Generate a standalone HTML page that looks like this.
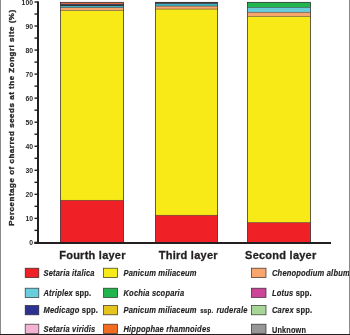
<!DOCTYPE html>
<html><head><meta charset="utf-8"><style>
html,body{margin:0;padding:0;background:#fff;}
body{width:350px;height:335px;overflow:hidden;}
svg{display:block;}
text{font-family:"Liberation Sans",Arial,sans-serif;font-weight:bold;fill:#222;}
.tk{font-size:7.6px;text-anchor:end;fill:#2a2a2a;}
.yt{font-size:8px;letter-spacing:0.515px;stroke:#2a2a2a;stroke-width:0.35px;text-anchor:middle;fill:#2a2a2a;}
.xl{font-size:11px;text-anchor:middle;letter-spacing:0.25px;fill:#231f20;stroke:#231f20;stroke-width:0.3px;}
.lg{font-size:8.6px;fill:#222;letter-spacing:0.2px;stroke:#222;stroke-width:0.15px;}
.i{font-style:italic;}
.sm{font-size:7.1px;}
</style></head><body>
<svg width="350" height="335" viewBox="0 0 350 335">
<rect width="350" height="335" fill="#fff"/>
<rect x="60.5" y="200.20" width="63.0" height="42.30" fill="#ef2026"/>
<rect x="60.5" y="10.42" width="63.0" height="189.78" fill="#f7ea16"/>
<rect x="60.5" y="7.49" width="63.0" height="2.93" fill="#f9a66c"/>
<rect x="60.5" y="5.66" width="63.0" height="1.83" fill="#3eb0bc"/>
<rect x="60.5" y="4.99" width="63.0" height="0.67" fill="#152020"/>
<rect x="60.5" y="4.13" width="63.0" height="0.94" fill="#34428a"/>
<rect x="60.5" y="2.30" width="63.0" height="1.83" fill="#ec7048"/>
<rect x="60.5" y="199.98" width="63.0" height="0.45" fill="#231f20"/>
<rect x="60.5" y="10.19" width="63.0" height="0.45" fill="#231f20"/>
<rect x="60.5" y="7.26" width="63.0" height="0.45" fill="#231f20"/>
<rect x="60.5" y="5.44" width="63.0" height="0.45" fill="#231f20"/>
<rect x="60.5" y="4.84" width="63.0" height="0.45" fill="#231f20"/>
<rect x="60.5" y="3.90" width="63.0" height="0.45" fill="#231f20"/>
<rect x="60.5" y="2.30" width="63.0" height="240.20" fill="none" stroke="#231f20" stroke-width="0.7"/>
<rect x="155.5" y="215.19" width="62.0" height="27.31" fill="#ef2026"/>
<rect x="155.5" y="9.07" width="62.0" height="206.12" fill="#f7ea16"/>
<rect x="155.5" y="6.10" width="62.0" height="2.98" fill="#f9a66c"/>
<rect x="155.5" y="3.50" width="62.0" height="2.59" fill="#3eb0bc"/>
<rect x="155.5" y="2.30" width="62.0" height="1.20" fill="#222230"/>
<rect x="155.5" y="214.96" width="62.0" height="0.45" fill="#231f20"/>
<rect x="155.5" y="8.85" width="62.0" height="0.45" fill="#231f20"/>
<rect x="155.5" y="5.87" width="62.0" height="0.45" fill="#231f20"/>
<rect x="155.5" y="3.28" width="62.0" height="0.45" fill="#231f20"/>
<rect x="155.5" y="2.30" width="62.0" height="240.20" fill="none" stroke="#231f20" stroke-width="0.7"/>
<rect x="247.5" y="222.40" width="63.0" height="20.10" fill="#ef2026"/>
<rect x="247.5" y="16.30" width="63.0" height="206.09" fill="#f7ea16"/>
<rect x="247.5" y="12.20" width="63.0" height="4.11" fill="#f9a66c"/>
<rect x="247.5" y="7.30" width="63.0" height="4.90" fill="#68cedc"/>
<rect x="247.5" y="2.30" width="63.0" height="5.00" fill="#20b64d"/>
<rect x="247.5" y="222.17" width="63.0" height="0.45" fill="#231f20"/>
<rect x="247.5" y="16.08" width="63.0" height="0.45" fill="#231f20"/>
<rect x="247.5" y="11.97" width="63.0" height="0.45" fill="#231f20"/>
<rect x="247.5" y="7.07" width="63.0" height="0.45" fill="#231f20"/>
<rect x="247.5" y="2.30" width="63.0" height="240.20" fill="none" stroke="#231f20" stroke-width="0.7"/>
<rect x="37" y="1.3" width="2" height="242.7" fill="#231f20"/>
<rect x="34.3" y="242" width="296.7" height="2" fill="#231f20"/>
<rect x="34.5" y="241.70" width="3" height="1.4" fill="#231f20"/>
<text class="tk" transform="translate(33.0,245.10) scale(0.9,1)">0</text>
<rect x="34.5" y="229.68" width="3" height="1.4" fill="#231f20"/>
<rect x="34.5" y="217.66" width="3" height="1.4" fill="#231f20"/>
<text class="tk" transform="translate(33.0,221.06) scale(0.9,1)">10</text>
<rect x="34.5" y="205.64" width="3" height="1.4" fill="#231f20"/>
<rect x="34.5" y="193.62" width="3" height="1.4" fill="#231f20"/>
<text class="tk" transform="translate(33.0,197.02) scale(0.9,1)">20</text>
<rect x="34.5" y="181.60" width="3" height="1.4" fill="#231f20"/>
<rect x="34.5" y="169.58" width="3" height="1.4" fill="#231f20"/>
<text class="tk" transform="translate(33.0,172.98) scale(0.9,1)">30</text>
<rect x="34.5" y="157.56" width="3" height="1.4" fill="#231f20"/>
<rect x="34.5" y="145.54" width="3" height="1.4" fill="#231f20"/>
<text class="tk" transform="translate(33.0,148.94) scale(0.9,1)">40</text>
<rect x="34.5" y="133.52" width="3" height="1.4" fill="#231f20"/>
<rect x="34.5" y="121.50" width="3" height="1.4" fill="#231f20"/>
<text class="tk" transform="translate(33.0,124.90) scale(0.9,1)">50</text>
<rect x="34.5" y="109.48" width="3" height="1.4" fill="#231f20"/>
<rect x="34.5" y="97.46" width="3" height="1.4" fill="#231f20"/>
<text class="tk" transform="translate(33.0,100.86) scale(0.9,1)">60</text>
<rect x="34.5" y="85.44" width="3" height="1.4" fill="#231f20"/>
<rect x="34.5" y="73.42" width="3" height="1.4" fill="#231f20"/>
<text class="tk" transform="translate(33.0,76.82) scale(0.9,1)">70</text>
<rect x="34.5" y="61.40" width="3" height="1.4" fill="#231f20"/>
<rect x="34.5" y="49.38" width="3" height="1.4" fill="#231f20"/>
<text class="tk" transform="translate(33.0,52.78) scale(0.9,1)">80</text>
<rect x="34.5" y="37.36" width="3" height="1.4" fill="#231f20"/>
<rect x="34.5" y="25.34" width="3" height="1.4" fill="#231f20"/>
<text class="tk" transform="translate(33.0,28.74) scale(0.9,1)">90</text>
<rect x="34.5" y="13.32" width="3" height="1.4" fill="#231f20"/>
<rect x="34.5" y="1.30" width="3" height="1.4" fill="#231f20"/>
<text class="tk" transform="translate(33.0,4.70) scale(0.9,1)">100</text>
<text class="yt" transform="translate(14.1,117.6) rotate(-90)" x="0" y="0">Percentage of charred seeds at the Zongri site (%)</text>
<text class="xl" x="92.5" y="258.5">Fourth layer</text>
<text class="xl" x="188.3" y="258.5">Third layer</text>
<text class="xl" x="280.8" y="258.5">Second layer</text>
<rect x="25.2" y="268.2" width="13.6" height="9.4" fill="#ef2026" stroke="#231f20" stroke-opacity="0.85" stroke-width="0.75"/>
<text class="lg" transform="translate(43.5,276.4) scale(0.875,1)"><tspan class="i">Setaria italica</tspan></text>
<rect x="103.5" y="268.2" width="14.1" height="9.4" fill="#f7ea16" stroke="#231f20" stroke-opacity="0.85" stroke-width="0.75"/>
<text class="lg" transform="translate(123.5,276.4) scale(0.875,1)"><tspan class="i">Panicum miliaceum</tspan></text>
<rect x="251.4" y="268.2" width="14.6" height="9.4" fill="#f9a66c" stroke="#231f20" stroke-opacity="0.85" stroke-width="0.75"/>
<text class="lg" transform="translate(272.0,276.4) scale(0.875,1)"><tspan class="i">Chenopodium album</tspan></text>
<rect x="25.2" y="288.2" width="13.6" height="9.3" fill="#68cedc" stroke="#231f20" stroke-opacity="0.85" stroke-width="0.75"/>
<text class="lg" transform="translate(43.5,296.0) scale(0.875,1)"><tspan class="i">Atriplex</tspan> spp.</text>
<rect x="103.5" y="288.2" width="14.1" height="9.3" fill="#20b64d" stroke="#231f20" stroke-opacity="0.85" stroke-width="0.75"/>
<text class="lg" transform="translate(123.5,296.0) scale(0.875,1)"><tspan class="i">Kochia scoparia</tspan></text>
<rect x="251.4" y="288.2" width="14.6" height="9.3" fill="#cd4599" stroke="#231f20" stroke-opacity="0.85" stroke-width="0.75"/>
<text class="lg" transform="translate(272.0,296.0) scale(0.875,1)"><tspan class="i">Lotus</tspan> spp.</text>
<rect x="25.2" y="305.5" width="13.6" height="9.3" fill="#2c3192" stroke="#231f20" stroke-opacity="0.85" stroke-width="0.75"/>
<text class="lg" transform="translate(43.5,312.7) scale(0.875,1)"><tspan class="i">Medicago</tspan> spp.</text>
<rect x="103.5" y="305.5" width="14.1" height="9.3" fill="#e5c41e" stroke="#231f20" stroke-opacity="0.85" stroke-width="0.75"/>
<text class="lg" transform="translate(123.5,312.7) scale(0.875,1)"><tspan class="i">Panicum miliaceum</tspan><tspan class="sm" dx="4.0">ssp.</tspan><tspan class="i" dx="3.6">ruderale</tspan></text>
<rect x="251.4" y="305.5" width="14.6" height="9.3" fill="#a8d696" stroke="#231f20" stroke-opacity="0.85" stroke-width="0.75"/>
<text class="lg" transform="translate(272.0,312.7) scale(0.875,1)"><tspan class="i">Carex</tspan> spp.</text>
<rect x="25.2" y="324.2" width="13.6" height="9.3" fill="#f5b3d3" stroke="#231f20" stroke-opacity="0.85" stroke-width="0.75"/>
<text class="lg" transform="translate(43.5,332.4) scale(0.875,1)"><tspan class="i">Setaria viridis</tspan></text>
<rect x="103.5" y="324.2" width="14.1" height="9.3" fill="#f36b20" stroke="#231f20" stroke-opacity="0.85" stroke-width="0.75"/>
<text class="lg" transform="translate(123.5,332.4) scale(0.875,1)"><tspan class="i">Hippophae rhamnoides</tspan></text>
<rect x="251.4" y="324.2" width="14.6" height="9.3" fill="#979797" stroke="#231f20" stroke-opacity="0.85" stroke-width="0.75"/>
<text class="lg" transform="translate(272.0,332.7) scale(0.85,1)">Unknown</text>
<rect x="0" y="0" width="1" height="335" fill="#8a8a8a"/>
<rect x="349" y="0" width="1" height="335" fill="#8a8a8a"/>
<rect x="0" y="334" width="350" height="1" fill="#231f20"/>
</svg>
</body></html>
